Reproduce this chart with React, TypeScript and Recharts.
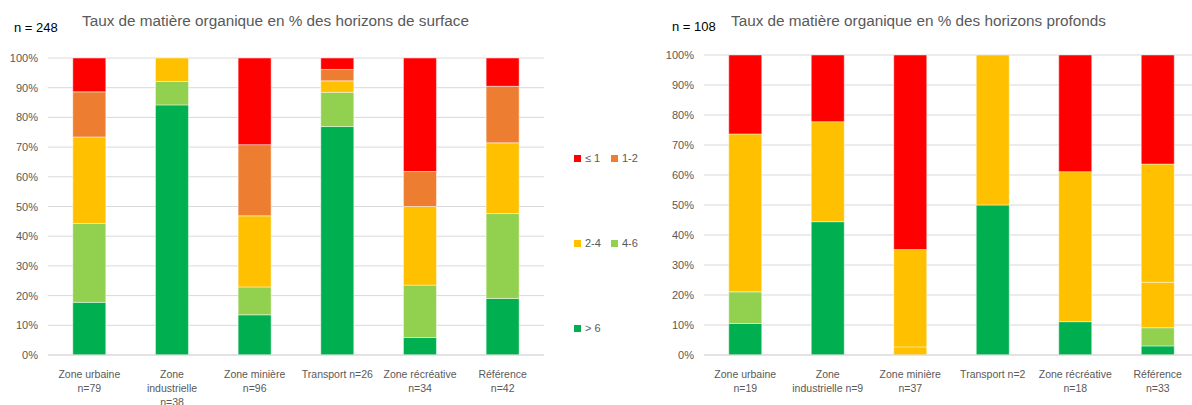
import React from "react";
import {
    BarChart,
    Bar,
    XAxis,
    YAxis,
    CartesianGrid,
} from "recharts";

// categories (tick labels, one entry per line)
const SURFACE_LABELS = [
    ["Zone urbaine", "n=79"],
    ["Zone", "industrielle", "n=38"],
    ["Zone minière", "n=96"],
    ["Transport n=26"],
    ["Zone récréative", "n=34"],
    ["Référence", "n=42"],
];
const DEEP_LABELS = [
    ["Zone urbaine", "n=19"],
    ["Zone", "industrielle n=9"],
    ["Zone minière", "n=37"],
    ["Transport n=2"],
    ["Zone récréative", "n=18"],
    ["Référence", "n=33"],
];

// sample counts per class, surface horizons
const SURFACE_GT6 = [14, 32, 13, 20, 2, 8];
const SURFACE_4_6 = [21, 3, 9, 3, 6, 12];
const SURFACE_2_4 = [23, 3, 23, 1, 9, 10];
const SURFACE_1_2 = [12, 0, 23, 1, 4, 8];
const SURFACE_LE1 = [9, 0, 28, 1, 13, 4];

// sample counts per class, deep horizons
const DEEP_GT6 = [2, 4, 0, 1, 2, 1];
const DEEP_4_6 = [2, 0, 0, 0, 0, 2];
const DEEP_2_4 = [10, 3, 1, 1, 9, 5];
const DEEP_1_2 = [0, 0, 12, 0, 0, 13];
const DEEP_LE1 = [5, 2, 24, 0, 7, 12];

const PERCENT_TICKS = [0, 0.1, 0.2, 0.3, 0.4, 0.5, 0.6, 0.7, 0.8, 0.9, 1];

const COLORS = {
    gt6: "#00B050",
    c46: "#92D050",
    c24: "#FFC000",
    c12: "#ED7D31",
    le1: "#FF0000",
};

const GREY = "#595959";
const FONT = "'Liberation Sans', Arial, sans-serif";

function buildRows(labels: string[][], gt6: number[], c46: number[], c24: number[], c12: number[], le1: number[]) {
    return labels.map((lines, i) => ({
        name: lines.join(" "),
        lines,
        gt6: gt6[i],
        c46: c46[i],
        c24: c24[i],
        c12: c12[i],
        le1: le1[i],
    }));
}

const surfaceData = buildRows(SURFACE_LABELS, SURFACE_GT6, SURFACE_4_6, SURFACE_2_4, SURFACE_1_2, SURFACE_LE1);
const deepData = buildRows(DEEP_LABELS, DEEP_GT6, DEEP_4_6, DEEP_2_4, DEEP_1_2, DEEP_LE1);

function CategoryTick(props: any) {
    const { x, y, payload, data } = props;
    const row = data[payload.index];
    const lines: string[] = row ? row.lines : [String(payload.value)];
    return (
        <text x={x} y={y} textAnchor="middle" fill={GREY} fontSize={10.5} fontFamily={FONT}>
            {lines.map((l, i) => (
                <tspan key={i} x={x} y={y + 21 + i * 14}>
                    {l}
                </tspan>
            ))}
        </text>
    );
}

function PercentTick(props: any) {
    const { x, y, payload } = props;
    return (
        <text x={x} y={y + 4} textAnchor="end" fill={GREY} fontSize={11} fontFamily={FONT}>
            {Math.round(payload.value * 100) + "%"}
        </text>
    );
}

function StackChart({ data, width, left, top, deep }: any) {
    const stroke = "rgba(255,255,255,0.45)";
    return (
        <BarChart
            width={width}
            height={405}
            data={data}
            stackOffset="expand"
            barCategoryGap="30%"
            margin={{ top, right: 16, bottom: 0, left }}
        >
            <CartesianGrid vertical={false} stroke="#d9d9d9" />
            <XAxis
                dataKey="name"
                interval={0}
                tickLine={false}
                tickSize={0}
                height={50}
                axisLine={{ stroke: "#d9d9d9" }}
                tick={(p: any) => <CategoryTick {...p} data={data} />}
            />
            <YAxis
                width={48}
                domain={[0, 1]}
                ticks={PERCENT_TICKS}
                tickSize={0}
                tickMargin={10}
                axisLine={false}
                tickLine={false}
                tick={(p: any) => <PercentTick {...p} />}
            />
            <Bar dataKey="gt6" stackId="a" fill={COLORS.gt6} stroke={stroke} isAnimationActive={false} />
            <Bar dataKey="c46" stackId="a" fill={COLORS.c46} stroke={stroke} isAnimationActive={false} />
            <Bar dataKey="c24" stackId="a" fill={COLORS.c24} stroke={stroke} isAnimationActive={false} />
            <Bar
                dataKey="c12"
                stackId="a"
                fill={deep ? COLORS.c24 : COLORS.c12}
                stroke={stroke}
                isAnimationActive={false}
            />
            <Bar dataKey="le1" stackId="a" fill={COLORS.le1} stroke={stroke} isAnimationActive={false} />
        </BarChart>
    );
}

const LEGEND_ITEMS = [
    { label: "≤ 1", color: COLORS.le1, x: 574, y: 152 },
    { label: "1-2", color: COLORS.c12, x: 611, y: 152 },
    { label: "2-4", color: COLORS.c24, x: 574, y: 237 },
    { label: "4-6", color: COLORS.c46, x: 611, y: 237 },
    { label: "> 6", color: COLORS.gt6, x: 574, y: 322 },
];

export default function App() {
    return (
        <div
            style={{
                position: "absolute",
                left: 0,
                top: 0,
                width: 1192,
                height: 405,
                overflow: "hidden",
                background: "#fff",
                fontFamily: FONT,
            }}
        >
            <div style={{ position: "absolute", left: 0, top: 0 }}>
                <StackChart data={surfaceData} width={560} left={0} top={58} />
            </div>
            <div style={{ position: "absolute", left: 620, top: 0 }}>
                <StackChart data={deepData} width={595} left={36} top={55} deep />
            </div>

            <div style={{ position: "absolute", left: 14, top: 20, fontSize: 13, color: "#000" }}>n = 248</div>
            <div style={{ position: "absolute", left: 82, top: 12, fontSize: 15.3, color: GREY, whiteSpace: "nowrap" }}>
                Taux de matière organique en % des horizons de surface
            </div>
            <div style={{ position: "absolute", left: 672, top: 19, fontSize: 13, color: "#000" }}>n = 108</div>
            <div style={{ position: "absolute", left: 731, top: 12, fontSize: 15.3, color: GREY, whiteSpace: "nowrap" }}>
                Taux de matière organique en % des horizons profonds
            </div>

            {LEGEND_ITEMS.map((it) => (
                <div
                    key={it.label}
                    style={{
                        position: "absolute",
                        left: it.x,
                        top: it.y,
                        display: "flex",
                        alignItems: "center",
                        fontSize: 11,
                        color: GREY,
                        lineHeight: "12px",
                    }}
                >
                    <span style={{ width: 7, height: 7, background: it.color, marginRight: 4 }} />
                    {it.label}
                </div>
            ))}
        </div>
    );
}
